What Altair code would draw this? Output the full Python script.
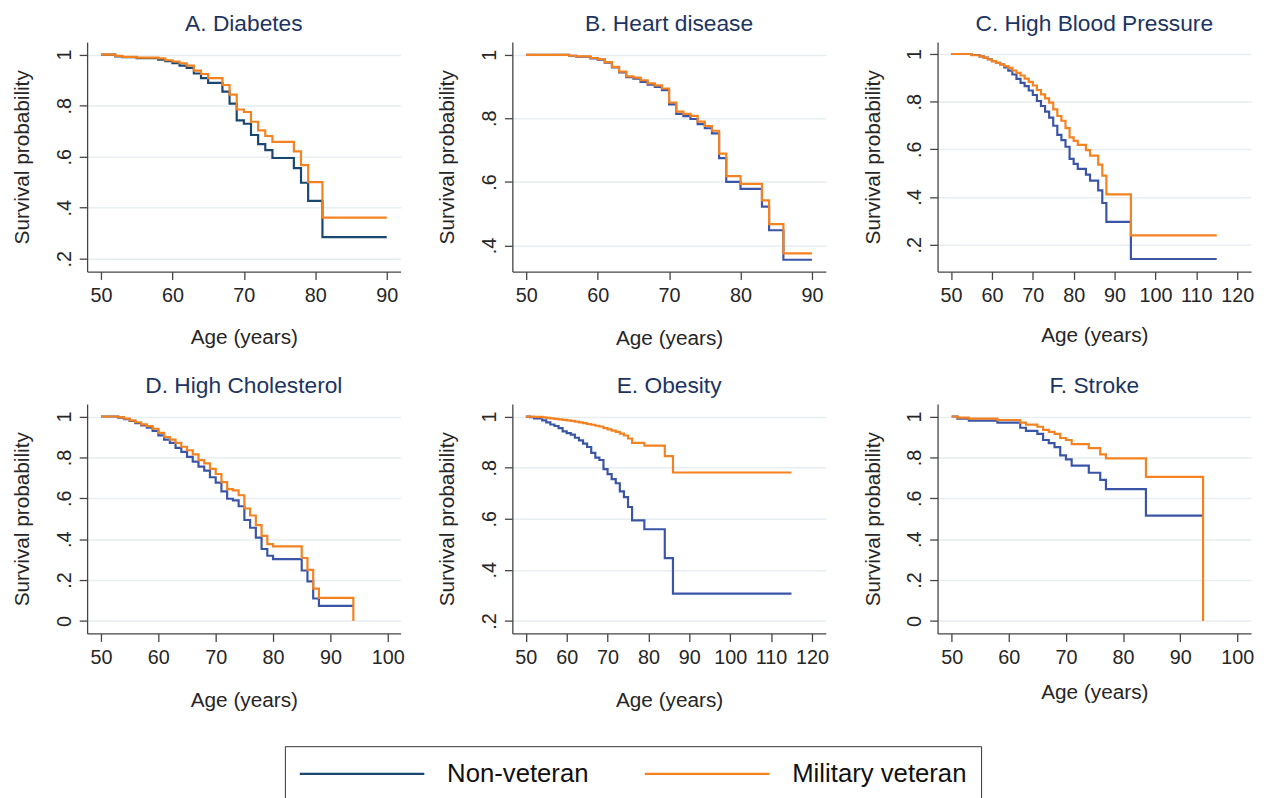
import altair as alt
import pandas as pd

SERIES = ["Non-veteran", "Military veteran"]

# ---------------- Panel A: Diabetes ----------------
A_nv_age = [50, 52, 53, 55, 58, 59, 60, 61, 62, 63, 64, 65, 67, 68, 69, 70, 71, 72, 73, 74, 77, 78, 79, 81, 90]
A_nv_surv = [1.0, 0.993, 0.99, 0.986, 0.98, 0.974, 0.966, 0.957, 0.948, 0.926, 0.908, 0.889, 0.855, 0.808, 0.742,
             0.729, 0.685, 0.649, 0.626, 0.595, 0.555, 0.498, 0.427, 0.285, 0.285]
A_v_age = [50, 52, 53, 55, 58, 59, 60, 61, 62, 63, 64, 65, 67, 68, 69, 70, 71, 72, 73, 74, 77, 78, 79, 81, 90]
A_v_surv = [1.0, 0.995, 0.991, 0.988, 0.985, 0.978, 0.973, 0.966, 0.957, 0.937, 0.924, 0.908, 0.881, 0.843, 0.785,
            0.775, 0.737, 0.703, 0.681, 0.658, 0.621, 0.567, 0.5, 0.361, 0.361]

# ---------------- Panel B: Heart disease ----------------
B_age = [50, 56, 57, 59, 60, 61, 62, 63, 64, 65, 66, 67, 68, 69, 70, 71, 72, 73, 74, 75, 76, 77, 78, 80, 83, 84, 86, 90]
B_nv_surv = [1.0, 0.997, 0.994, 0.989, 0.985, 0.975, 0.96, 0.945, 0.93, 0.925, 0.915, 0.906, 0.899, 0.889, 0.844,
             0.814, 0.807, 0.798, 0.782, 0.769, 0.753, 0.675, 0.6, 0.578, 0.522, 0.448, 0.355, 0.355]
B_v_surv = [1.0, 0.997, 0.995, 0.99, 0.986, 0.977, 0.962, 0.947, 0.932, 0.928, 0.92, 0.91, 0.904, 0.894, 0.85,
            0.821, 0.814, 0.808, 0.79, 0.776, 0.761, 0.689, 0.618, 0.594, 0.542, 0.467, 0.375, 0.375]

# ---------------- Panel C: High Blood Pressure ----------------
C_age = [50, 55, 57, 58, 59, 60, 61, 62, 63, 64, 65, 66, 67, 68, 69, 70, 71, 72, 73, 74, 75, 76, 77, 78, 79, 80, 81,
         83, 84, 86, 87, 88, 94, 115]
C_nv_surv = [1.0, 0.996, 0.99, 0.985, 0.978, 0.97, 0.963, 0.956, 0.944, 0.93, 0.914, 0.896, 0.879, 0.865, 0.847,
             0.828, 0.803, 0.782, 0.758, 0.733, 0.699, 0.661, 0.639, 0.611, 0.56, 0.539, 0.518, 0.494, 0.469, 0.428,
             0.375, 0.296, 0.14, 0.14]
C_v_surv = [1.0, 0.995, 0.99, 0.984, 0.977, 0.97, 0.963, 0.956, 0.949, 0.942, 0.931, 0.921, 0.91, 0.897, 0.883,
            0.868, 0.849, 0.831, 0.814, 0.796, 0.768, 0.74, 0.72, 0.689, 0.65, 0.636, 0.619, 0.597, 0.574, 0.536,
            0.49, 0.411, 0.239, 0.239]

# ---------------- Panel D: High Cholesterol ----------------
D_nv_age = [50, 53, 54, 55, 56, 57, 58, 59, 60, 61, 62, 63, 64, 65, 66, 67, 68, 69, 70, 71, 72, 73, 74, 75, 76, 77,
            78, 79, 80, 85, 86, 87, 88, 94]
D_nv_surv = [1.0, 0.995, 0.987, 0.978, 0.967, 0.957, 0.946, 0.93, 0.908, 0.887, 0.871, 0.847, 0.827, 0.803, 0.779,
             0.755, 0.735, 0.703, 0.677, 0.634, 0.598, 0.59, 0.561, 0.494, 0.456, 0.408, 0.352, 0.319, 0.303, 0.247,
             0.194, 0.11, 0.074, 0.074]
D_v_age = [50, 53, 54, 55, 56, 57, 58, 59, 60, 61, 62, 63, 64, 65, 66, 67, 68, 69, 70, 71, 72, 73, 74, 75, 76, 77,
           78, 79, 80, 85, 86, 87, 88, 94]
D_v_surv = [1.0, 0.997, 0.99, 0.981, 0.972, 0.962, 0.953, 0.94, 0.92, 0.9, 0.887, 0.871, 0.852, 0.835, 0.815,
            0.787, 0.771, 0.744, 0.719, 0.679, 0.645, 0.639, 0.615, 0.55, 0.516, 0.469, 0.416, 0.376, 0.365, 0.308,
            0.25, 0.158, 0.113, 0.0]

# ---------------- Panel E: Obesity ----------------
E_nv_age = [50, 51, 52, 54, 55, 56, 57, 58, 59, 60, 61, 62, 63, 64, 65, 66, 67, 68, 69, 70, 71, 72, 73, 74, 75, 76,
            79, 84, 86, 115]
E_nv_surv = [1.0, 0.998, 0.993, 0.985, 0.977, 0.969, 0.963, 0.955, 0.942, 0.935, 0.929, 0.917, 0.907, 0.894, 0.881,
             0.858, 0.839, 0.83, 0.794, 0.775, 0.755, 0.739, 0.707, 0.685, 0.646, 0.594, 0.559, 0.446, 0.307, 0.307]
E_v_age = [50, 52, 54, 55, 56, 57, 58, 59, 60, 61, 62, 63, 64, 65, 66, 67, 68, 69, 70, 71, 72, 73, 74, 75, 76, 79,
           84, 86, 115]
E_v_surv = [1.0, 0.999, 0.997, 0.995, 0.993, 0.991, 0.989, 0.987, 0.985, 0.983, 0.98, 0.977, 0.974, 0.971, 0.968,
            0.964, 0.961, 0.955, 0.95, 0.945, 0.94, 0.933, 0.926, 0.914, 0.897, 0.886, 0.845, 0.781, 0.781]

# ---------------- Panel F: Stroke ----------------
F_age = [50, 51, 53, 58, 62, 63, 65, 66, 67, 68, 69, 70, 71, 74, 76, 77, 84, 94]
F_nv_surv = [1.0, 0.99, 0.98, 0.97, 0.945, 0.93, 0.915, 0.885, 0.87, 0.85, 0.81, 0.79, 0.76, 0.725, 0.69, 0.645,
             0.515, 0.515]
F_v_surv = [1.0, 0.995, 0.99, 0.983, 0.97, 0.96, 0.95, 0.935, 0.925, 0.915, 0.895, 0.885, 0.865, 0.845, 0.815,
            0.795, 0.705, 0.0]

TITLES = ["A. Diabetes", "B. Heart disease", "C. High Blood Pressure",
          "D. High Cholesterol", "E. Obesity", "F. Stroke"]

NAVY = "#1a476f"
BLUE = "#3a55a6"
ORANGE = "#f58220"
FONT = "Liberation Sans, Arial, Helvetica, sans-serif"

YLABEL = "datum.value == 1 ? '1' : datum.value == 0 ? '0' : replace(format(datum.value, '.1f'), '0.', '.')"


def make_df(nv_age, nv_surv, v_age, v_surv):
    rows = [{"age": a, "surv": s, "series": SERIES[0]} for a, s in zip(nv_age, nv_surv)]
    rows += [{"age": a, "surv": s, "series": SERIES[1]} for a, s in zip(v_age, v_surv)]
    return pd.DataFrame(rows)


def panel(df, title, xdom, xticks, ydom, yticks, nv_color, xtitle_pad, legend):
    color = alt.Color("series:N", scale=alt.Scale(domain=SERIES, range=[nv_color, ORANGE]), legend=legend)
    base = alt.Chart(df).mark_line(interpolate="step-after", strokeWidth=2.2).encode(
        x=alt.X("age:Q", scale=alt.Scale(domain=xdom, nice=False, zero=False),
                axis=alt.Axis(values=xticks, title="Age (years)", titlePadding=xtitle_pad, grid=False,
                              labelPadding=6)),
        y=alt.Y("surv:Q", scale=alt.Scale(domain=ydom, nice=False, zero=False),
                axis=alt.Axis(values=yticks, title="Survival probability", labelAngle=270,
                              labelAlign="center", labelBaseline="bottom", labelPadding=5,
                              titlePadding=22, grid=True, labelExpr=YLABEL)),
        color=color,
    )
    layers = alt.layer(
        base.transform_filter(alt.datum.series == SERIES[0]),
        base.transform_filter(alt.datum.series == SERIES[1]),
    )
    return layers.properties(
        width=317, height=232,
        title=alt.TitleParams(title, fontSize=23, font=FONT, fontWeight="normal", color="#1d3461",
                              anchor="middle", baseline="bottom", offset=-17),
    )


legend = alt.Legend(
    orient="none", legendX=200, legendY=712, direction="horizontal", title=None, columns=2,
    symbolType="M-5,0H5", symbolSize=635, symbolStrokeWidth=2.2, symbolOffset=50,
    labelOffset=72, labelFont=FONT, labelFontSize=26, labelColor="#111", labelLimit=400,
    columnPadding=51, padding=14, strokeColor="#333",
)

y_a = [0.2, 0.4, 0.6, 0.8, 1.0]
y_b = [0.4, 0.6, 0.8, 1.0]
y_d = [0.0, 0.2, 0.4, 0.6, 0.8, 1.0]
x_ab = [50, 60, 70, 80, 90]
x_ce = [50, 60, 70, 80, 90, 100, 110, 120]
x_df = [50, 60, 70, 80, 90, 100]

pA = panel(make_df(A_nv_age, A_nv_surv, A_v_age, A_v_surv), TITLES[0], [48.06, 91.94], x_ab,
           [0.15, 1.049], y_a, NAVY, 22, legend)
pB = panel(make_df(B_age, B_nv_surv, B_age, B_v_surv), TITLES[1], [48.06, 91.94], x_ab,
           [0.318, 1.04], y_b, BLUE, 23, None)
pC = panel(make_df(C_age, C_nv_surv, C_age, C_v_surv), TITLES[2], [46.7, 123.4], x_ce,
           [0.0875, 1.05], y_a, BLUE, 20, None)
pD = panel(make_df(D_nv_age, D_nv_surv, D_v_age, D_v_surv), TITLES[3], [47.58, 102.24], x_df,
           [-0.061, 1.061], y_d, BLUE, 23, None)
pE = panel(make_df(E_nv_age, E_nv_surv, E_v_age, E_v_surv), TITLES[4], [46.7, 123.4], x_ce,
           [0.151, 1.049], y_a, BLUE, 23, None)
pF = panel(make_df(F_age, F_nv_surv, F_age, F_v_surv), TITLES[5], [47.53, 102.4], x_df,
           [-0.061, 1.061], y_d, BLUE, 15, None)

chart = alt.concat(
    pA, pB, pC, pD, pE, pF, columns=3, spacing={"row": 134, "column": 113}, bounds="flush"
).resolve_scale(color="independent").properties(
    padding={"left": 4, "top": 1, "right": 2, "bottom": 2},
    background="white",
).configure_view(stroke=None).configure_axis(
    labelFont=FONT, labelFontSize=20, labelColor="#262626", labelFlush=False,
    titleFont=FONT, titleFontSize=21, titleFontWeight="normal", titleColor="#262626",
    domainColor="#444", domainWidth=1.3, tickColor="#444", tickWidth=1.3, tickSize=8,
    gridColor="#e6eef1", gridWidth=1.5,
)

chart.save("out.html", embed_options={"renderer": "svg", "actions": False})
